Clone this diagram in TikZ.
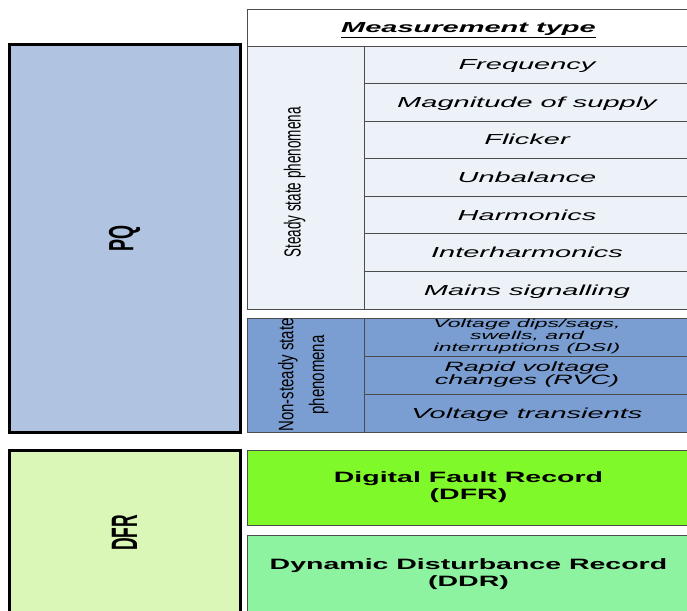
\documentclass[tikz,border=0pt]{standalone}
\usepackage{fontspec}
\setmainfont{Liberation Sans}
\definecolor{pqbg}{HTML}{B0C4E2}
\definecolor{steadybg}{HTML}{EDF1F8}
\definecolor{transbg}{HTML}{7B9ED2}
\definecolor{dfrbg}{HTML}{DAF7B8}
\definecolor{faultbg}{HTML}{80F92A}
\definecolor{distbg}{HTML}{8EF3A0}
% the drawing was widened, so its text is too
\newcommand{\wide}[2][2.0]{\scalebox{#1}[1]{#2}}
\newcommand{\upright}[2][1.95]{\rotatebox{90}{\scalebox{1}[#1]{#2}}}
\newcommand{\lines}[1]{\begin{tabular}{@{}c@{}}#1\end{tabular}}
\tikzset{
  cell/.style={draw=black!70, line width=0.9pt, anchor=north west,
    inner sep=0pt, outer sep=0pt, font=\fontsize{14.5}{16}\selectfont},
  oneline/.style={text height=10pt, text depth=0pt},
  group/.style={cell, draw=black, line width=3pt},
  record/.style={cell, font=\fontsize{15}{17}\selectfont\bfseries}
}

\begin{document}
\begin{tikzpicture}[x=1pt,y=-1pt]
  \clip (0,0) rectangle (687,610);
  % the two instrument groups on the left
  \node[group,fill=pqbg,minimum width=231,minimum height=387] (pq) at (9,45)
    {\upright{\fontsize{18}{20}\selectfont\bfseries PQ}};
  \node[group,fill=dfrbg,minimum width=231,minimum height=166] (dfr) at (9,450)
    {\upright[2.1]{\fontsize{17.5}{20}\selectfont\bfseries DFR}};

  % header
  \node[cell,oneline,fill=white,minimum width=443,minimum height=37] (head) at (247,9)
    {\wide{\bfseries\itshape\underline{Measurement type}}};

  % steady state
  \node[cell,fill=steadybg,minimum width=117,minimum height=263] (steady) at (247,46)
    {\upright[1.72]{\fontsize{13.5}{15}\selectfont Steady state phenomena\kern10pt}\kern22pt};
  \foreach \t [count=\i from 0] in {Frequency,Magnitude of supply,Flicker,
      Unbalance,Harmonics,Interharmonics,Mains signalling}
    \node[cell,oneline,fill=steadybg,minimum width=326,minimum height=37.57]
      (ss\i) at (364,{46+37.57*\i}) {\wide{\itshape \t}};

  % non-steady state
  \node[cell,fill=transbg,minimum width=117,minimum height=114] (trans) at (247,318)
    {\upright[1.4]{\fontsize{15}{22}\selectfont\lines{Non-steady state\\phenomena}}\kern6pt};
  \node[cell,fill=transbg,minimum width=326,minimum height=38] (dsi) at (364,318)
    {\wide{\fontsize{11.5}{11}\selectfont\itshape
      \lines{Voltage dips/sags,\\swells, and\\interruptions (DSI)}}};
  \node[cell,fill=transbg,minimum width=326,minimum height=38] (rvc) at (364,356)
    {\wide{\fontsize{13.5}{13}\selectfont\itshape
      \lines{Rapid voltage\\changes (RVC)}}};
  \node[cell,oneline,fill=transbg,minimum width=326,minimum height=38] (vt) at (364,394)
    {\wide{\itshape Voltage transients}};

  % recorder types
  \node[record,fill=faultbg,minimum width=443,minimum height=75] (fault) at (247,450)
    {\wide[1.9]{\lines{Digital Fault Record\\(DFR)}}};
  \node[record,fill=distbg,minimum width=443,minimum height=80] (dist) at (247,535)
    {\wide[1.9]{\lines{Dynamic Disturbance Record\\(DDR)}}};
\end{tikzpicture}
\end{document}
